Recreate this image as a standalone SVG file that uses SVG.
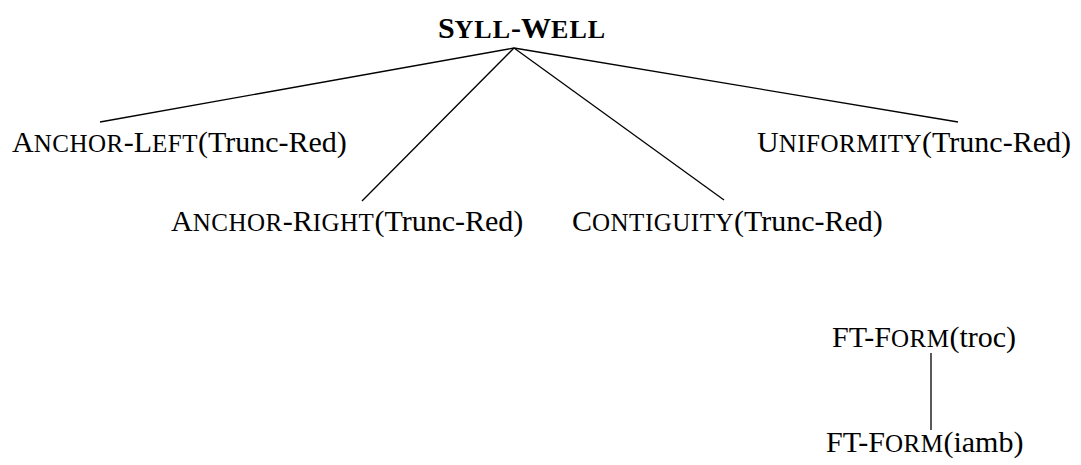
<svg xmlns="http://www.w3.org/2000/svg" width="1081" height="465" viewBox="0 0 1081 465">
<style>
text{font-family:"Liberation Serif","Times New Roman",serif;font-size:30px;fill:#000}
.sc{font-size:25px;letter-spacing:0.5px}
.b{font-weight:bold}
.b .sc{font-size:26px;letter-spacing:1px}
line{stroke:#000;stroke-width:1.3}
</style>
<rect width="1081" height="465" fill="#fff"/>
<g id="connectors">
<line x1="514" y1="48" x2="100" y2="122"/>
<line x1="514" y1="48" x2="362" y2="201"/>
<line x1="514" y1="48" x2="724" y2="200"/>
<line x1="514" y1="48" x2="958" y2="122"/>
<line x1="931" y1="353" x2="931" y2="430"/>
</g>
<g id="syll-well"><text class="b" x="522" y="38" text-anchor="middle">S<tspan class="sc">YLL</tspan>-W<tspan class="sc">ELL</tspan></text></g>
<g id="anchor-left"><text x="12" y="152">A<tspan class="sc">NCHOR</tspan>-L<tspan class="sc">EFT</tspan>(Trunc-Red)</text></g>
<g id="uniformity"><text x="757" y="152">U<tspan class="sc">NIFORMITY</tspan>(Trunc-Red)</text></g>
<g id="anchor-right"><text x="171" y="231">A<tspan class="sc">NCHOR</tspan>-R<tspan class="sc">IGHT</tspan>(Trunc-Red)</text></g>
<g id="contiguity"><text x="572" y="231">C<tspan class="sc">ONTIGUITY</tspan>(Trunc-Red)</text></g>
<g id="ft-form-troc"><text x="832" y="347">FT-F<tspan class="sc">ORM</tspan>(troc)</text></g>
<g id="ft-form-iamb"><text x="826" y="452">FT-F<tspan class="sc">ORM</tspan>(iamb)</text></g>
</svg>
